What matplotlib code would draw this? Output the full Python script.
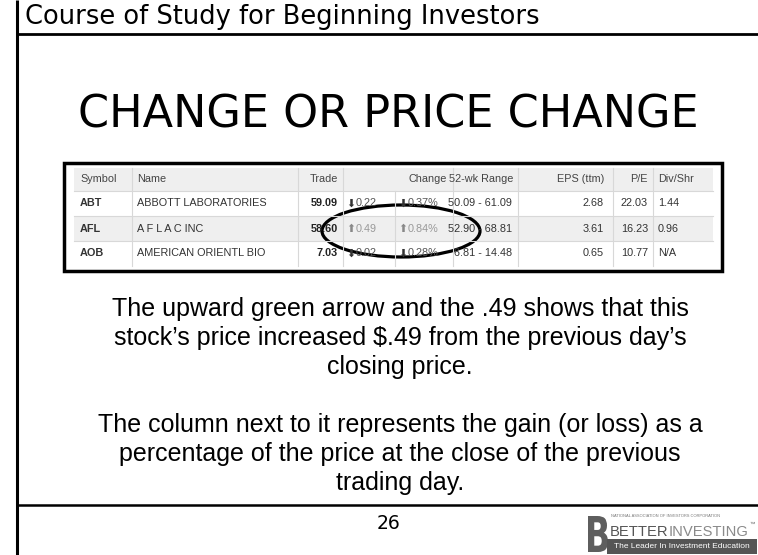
import matplotlib.pyplot as plt
from matplotlib.patches import Rectangle, Ellipse, PathPatch
from matplotlib.textpath import TextPath
from matplotlib.font_manager import FontProperties
from matplotlib.transforms import Affine2D

# slide texts
header_text = "Course of Study for Beginning Investors"
slide_title = "CHANGE OR PRICE CHANGE"
page_no = "26"
para1 = ["The upward green arrow and the .49 shows that this",
         "stock\u2019s price increased $.49 from the previous day\u2019s",
         "closing price."]
para2 = ["The column next to it represents the gain (or loss) as a",
         "percentage of the price at the close of the previous",
         "trading day."]

# quote table
col_labels = ["Symbol", "Name", "Trade", "", "Change", "52-wk Range", "EPS (ttm)", "P/E", "Div/Shr"]
symbols = ["ABT", "AFL", "AOB"]
names = ["ABBOTT LABORATORIES", "A F L A C INC", "AMERICAN ORIENTL BIO"]
trade = [59.09, 58.60, 7.03]
chg = [-0.22, 0.49, -0.02]
chg_pct = [-0.37, 0.84, -0.28]
wk_low = [50.09, 52.90, 6.81]
wk_high = [61.09, 68.81, 14.48]
eps = [2.68, 3.61, 0.65]
pe = [22.03, 16.23, 10.77]
div = ["1.44", "0.96", "N/A"]

SANS = ["Liberation Sans", "DejaVu Sans"]

fig = plt.figure(figsize=(7.58, 5.55), dpi=100)
ax = fig.add_axes([0, 0, 1, 1])
ax.set_xlim(0, 758)
ax.set_ylim(555, 0)
ax.axis("off")

# slide frame lines
ax.plot([17, 17], [0, 555], color="black", lw=2.2, solid_capstyle="butt")
ax.plot([17, 758], [34, 34], color="black", lw=2.0, solid_capstyle="butt")
ax.plot([17, 758], [505, 505], color="black", lw=1.8, solid_capstyle="butt")

ax.text(25, 23.5, header_text, fontsize=18.5, family="DejaVu Sans", va="baseline", ha="left")
ax.text(388, 127, slide_title, fontsize=32, family="DejaVu Sans", va="baseline", ha="center")

# table geometry
x0, x1 = 74, 713
row_y = [168, 191, 216, 241, 266]
seps = [132, 298, 343, 453, 518, 613, 653]

for i in range(4):
    if i in (0, 2):
        ax.add_patch(Rectangle((x0, row_y[i]), x1 - x0, row_y[i + 1] - row_y[i],
                               fc="#efefef", ec="none"))
for y in row_y[1:-1]:
    ax.plot([x0, x1], [y, y], color="#d8d8d8", lw=0.8)
for x in seps:
    ax.plot([x, x], [row_y[0], row_y[-1]], color="#d8d8d8", lw=0.8)
ax.plot([395, 395], [row_y[1], row_y[-1]], color="#d8d8d8", lw=0.8)
ax.add_patch(Rectangle((64, 163), 658, 108, fc="none", ec="black", lw=2.5))

fs = 7.8
hy = (row_y[0] + row_y[1]) / 2
hc = "#444444"
ax.text(80, hy, col_labels[0], fontsize=fs, family=SANS, color=hc, va="center")
ax.text(137, hy, col_labels[1], fontsize=fs, family=SANS, color=hc, va="center")
ax.text(338, hy, col_labels[2], fontsize=fs, family=SANS, color=hc, va="center", ha="right")
ax.text(447, hy, col_labels[4], fontsize=fs, family=SANS, color=hc, va="center", ha="right")
ax.text(513, hy, col_labels[5], fontsize=fs, family=SANS, color=hc, va="center", ha="right")
ax.text(604, hy, col_labels[6], fontsize=fs, family=SANS, color=hc, va="center", ha="right")
ax.text(648, hy, col_labels[7], fontsize=fs, family=SANS, color=hc, va="center", ha="right")
ax.text(658, hy, col_labels[8], fontsize=fs, family=SANS, color=hc, va="center")

for i in range(len(symbols)):
    y = (row_y[i + 1] + row_y[i + 2]) / 2
    ax.text(80, y, symbols[i], fontsize=fs, family=SANS, color="#333333", va="center", weight="bold")
    ax.text(137, y, names[i], fontsize=fs, family=SANS, color="#333333", va="center")
    ax.text(338, y, f"{trade[i]:.2f}", fontsize=fs, family=SANS, color="#222222",
            va="center", ha="right", weight="bold")
    up = chg[i] > 0
    arrow = "\u2b06" if up else "\u2b07"
    ccol = "#999999" if up else "#555555"
    acol = "#888888" if up else "#333333"
    ax.text(346, y, arrow, fontsize=fs, family="DejaVu Sans", color=acol, va="center")
    ax.text(356, y, f"{abs(chg[i]):.2f}", fontsize=fs, family=SANS, color=ccol, va="center")
    ax.text(398, y, arrow, fontsize=fs, family="DejaVu Sans", color=acol, va="center")
    ax.text(408, y, f"{abs(chg_pct[i]):.2f}%", fontsize=fs, family=SANS, color=ccol, va="center")
    ax.text(512, y, f"{wk_low[i]:.2f} - {wk_high[i]:.2f}", fontsize=fs, family=SANS,
            color="#333333", va="center", ha="right")
    ax.text(604, y, f"{eps[i]:.2f}", fontsize=fs, family=SANS, color="#333333", va="center", ha="right")
    ax.text(648, y, f"{pe[i]:.2f}", fontsize=fs, family=SANS, color="#333333", va="center", ha="right")
    ax.text(658, y, div[i], fontsize=fs, family=SANS, color="#333333", va="center")

# hand-drawn circle around the AFL change
ax.add_patch(Ellipse((401, 231), 158, 52, fill=False, ec="black", lw=2.3))

# explanation paragraphs
for j, line in enumerate(para1):
    ax.text(400, 316 + 29 * j, line, fontsize=18, family=SANS, ha="center", va="baseline")
for j, line in enumerate(para2):
    ax.text(400, 432 + 29 * j, line, fontsize=18, family=SANS, ha="center", va="baseline")

ax.text(389, 529, page_no, fontsize=13.5, family="DejaVu Sans", ha="center", va="baseline")

# BetterInvesting logo
bpath = TextPath((0, 0), "B", size=1, prop=FontProperties(family="DejaVu Sans", weight="bold"))
ext = bpath.get_extents()
sx = 20 / ext.width
sy = 36 / ext.height
tr = Affine2D().translate(-ext.x0, 0).scale(sx, -sy).translate(588, 552)
ax.add_patch(PathPatch(tr.transform_path(bpath), fc="#5e5e5e", ec="none"))

ax.text(611, 516, "NATIONAL ASSOCIATION OF INVESTORS CORPORATION", fontsize=2.9,
        family=SANS, color="#777777", va="center")
renderer = fig.canvas.get_renderer()
t1 = ax.text(610, 536, "BETTER", fontsize=10.6, family=SANS, color="#555555", va="baseline")
bb = t1.get_window_extent(renderer).transformed(ax.transData.inverted())
t2 = ax.text(bb.x1, 536, "INVESTING", fontsize=10.6, family=SANS, color="#8a8a8a", va="baseline")
bb2 = t2.get_window_extent(renderer).transformed(ax.transData.inverted())
ax.text(bb2.x1 + 1, 524, "\u2122", fontsize=4, family=SANS, color="#666666", va="center")
ax.add_patch(Rectangle((607, 539), 150, 15, fc="#555555", ec="none"))
ax.text(682, 546.5, "The Leader In Investment Education", fontsize=6, family=SANS,
        color="white", ha="center", va="center")

fig.savefig("out.png", dpi=100)
